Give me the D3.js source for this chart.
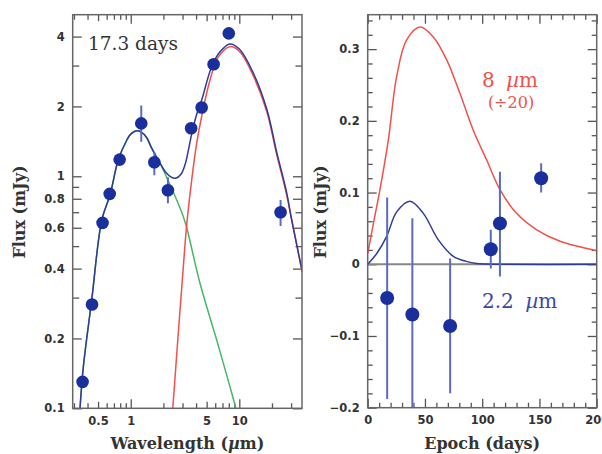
<!DOCTYPE html>
<html>
<head>
<meta charset="utf-8">
<script src="https://d3js.org/d3.v7.min.js"></script>
<style>
  body { margin: 0; background: #fff; }
  svg { display: block; }
  .tick text { font-family: "DejaVu Sans", sans-serif; font-weight: bold; font-size: 11.5px; fill: #333; }
  .tick line { stroke: #555; stroke-width: 1.3; }
  .domain { display: none; }
</style>
</head>
<body>
<svg width="602" height="454"></svg>
<script>
// ---- left panel: SED at 17.3 days ----
var sedWave  = [0.36, 0.44, 0.55, 0.64, 0.79, 1.25, 1.65, 2.2, 3.6, 4.5, 5.8, 8.0, 24];
var sedFlux  = [0.13, 0.28, 0.63, 0.84, 1.18, 1.69, 1.15, 0.87, 1.61, 1.98, 3.04, 4.13, 0.70];
var sedErrLo = [0.13, 0.28, 0.63, 0.84, 1.18, 1.41, 1.01, 0.765, 1.61, 1.98, 3.04, 4.13, 0.61];
var sedErrHi = [0.13, 0.28, 0.63, 0.84, 1.18, 2.02, 1.27, 0.99, 1.61, 1.98, 3.04, 4.13, 0.79];

var totalWave = [0.341, 0.366, 0.437, 0.541, 0.645, 0.769, 0.919, 1.0, 1.13, 1.25, 1.4, 1.55, 1.86, 2.1, 2.3, 2.6, 2.9, 3.16, 3.4, 3.64, 4.05, 4.5, 5.57, 6.64, 8.2, 10.1, 13.4, 17.9, 22.1, 27.3, 30.3, 37.8];
var totalFlux = [0.1, 0.151, 0.293, 0.647, 0.832, 1.18, 1.43, 1.52, 1.57, 1.55, 1.47, 1.33, 1.14, 1.04, 1.0, 0.98, 1.02, 1.12, 1.3, 1.52, 1.85, 2.13, 2.97, 3.44, 3.72, 3.52, 2.8, 1.95, 1.27, 0.85, 0.65, 0.395];

var greenWave = [0.341, 0.366, 0.437, 0.541, 0.645, 0.769, 0.919, 1.0, 1.13, 1.25, 1.4, 1.55, 1.86, 2.14, 2.65, 3.05, 3.28, 4.35, 6.19, 8.2, 9.3];
var greenFlux = [0.1, 0.151, 0.293, 0.647, 0.832, 1.18, 1.43, 1.52, 1.57, 1.55, 1.47, 1.33, 1.14, 0.99, 0.79, 0.67, 0.6, 0.345, 0.197, 0.124, 0.1];

var redWave = [2.44, 2.74, 3.05, 3.28, 3.64, 4.05, 4.5, 5.37, 6.41, 8.2, 10.1, 13.4, 17.9, 22.1, 27.3, 37.8];
var redFlux = [0.1, 0.21, 0.407, 0.62, 0.96, 1.39, 1.81, 2.6, 3.27, 3.62, 3.44, 2.72, 1.9, 1.24, 0.83, 0.387];

var leftYTicks = [0.1, 0.2, 0.4, 0.6, 0.8, 1, 2, 4];
var leftYMinor = [0.3, 0.5, 0.7, 0.9, 3];
var leftXLabels = [0.5, 1, 5, 10];
var leftXMajor = [1, 10];
var leftXMid = [0.5, 5];
var leftXMinor = [0.3, 0.4, 0.6, 0.7, 0.8, 0.9, 2, 3, 4, 6, 7, 8, 9, 20, 30];

// ---- right panel: light curves ----
var epochs   = [17, 39, 72, 107.5, 115.5, 151.5];
var flux22   = [-0.047, -0.070, -0.086, 0.021, 0.057, 0.120];
var errLo22  = [-0.188, -0.215, -0.180, -0.006, -0.017, 0.100];
var errHi22  = [0.093, 0.064, 0.008, 0.048, 0.129, 0.141];

var curve8Epoch = [0, 5, 10.7, 18, 25.3, 34, 45.7, 57.3, 69, 80.6, 92.2, 104, 115.5, 130, 147.6, 168, 200];
var curve8Flux  = [0.015, 0.057, 0.104, 0.173, 0.262, 0.313, 0.331, 0.317, 0.285, 0.238, 0.187, 0.145, 0.104, 0.071, 0.048, 0.032, 0.019];

var curve22Epoch = [0, 7.9, 16.6, 25.3, 37, 48.6, 61.7, 74.8, 86, 95, 120, 200];
var curve22Flux  = [0, 0.015, 0.039, 0.073, 0.088, 0.071, 0.034, 0.011, 0.004, 0.001, 0, 0];

var rightYTicks = [-0.2, -0.1, 0, 0.1, 0.2, 0.3];
var rightXTicks = [0, 50, 100, 150, 200];

var dotColor = '#1a2e9c';
var errColor = '#5a6cc0';
var redColor = '#f2504a';
var blueColor = '#2e3c98';
var greenColor = '#45b868';

var svg = d3.select('svg');
var L = {x0: 72.7, x1: 302, y0: 14.7, y1: 408.3};
var R = {x0: 367.7, x1: 596.7, y0: 14.7, y1: 407.7};

var xl = d3.scaleLog().domain([0.292, 37.8]).range([L.x0, L.x1]);
var yl = d3.scaleLog().domain([0.1, 4.97]).range([L.y1, L.y0]);
var xr = d3.scaleLinear().domain([0, 200]).range([R.x0, R.x1]);
var yr = d3.scaleLinear().domain([-0.2, 0.348]).range([R.y1, R.y0]);

function zip(a, b) { return a.map(function(v, i) { return [v, b[i]]; }); }

function clip(id, P) {
    svg.append('clipPath').attr('id', id)
        .append('rect').attr('x', P.x0).attr('y', P.y0)
        .attr('width', P.x1 - P.x0).attr('height', P.y1 - P.y0);
}
clip('clipL', L);
clip('clipR', R);

function ticks(P, x, y, xv, yv, size, xfmt, yfmt) {
    var g = svg.append('g');
    if (xv) {
        g.append('g').attr('transform', 'translate(0,' + P.y1 + ')')
            .call(d3.axisBottom(x).tickValues(xv).tickSize(-size).tickPadding(8).tickFormat(xfmt || ''));
        g.append('g').attr('transform', 'translate(0,' + P.y0 + ')')
            .call(d3.axisTop(x).tickValues(xv).tickSize(-size).tickFormat(''));
    }
    if (yv) {
        g.append('g').attr('transform', 'translate(' + P.x0 + ',0)')
            .call(d3.axisLeft(y).tickValues(yv).tickSize(-size).tickPadding(8).tickFormat(yfmt || ''));
        g.append('g').attr('transform', 'translate(' + P.x1 + ',0)')
            .call(d3.axisRight(y).tickValues(yv).tickSize(-size).tickFormat(''));
    }
}

// left ticks
var plain = function(d) { return String(d); };
ticks(L, xl, yl, leftXMajor, leftYTicks, 9, function() { return ''; }, plain);
ticks(L, xl, yl, leftXMid, leftYMinor, 6.5);
ticks(L, xl, yl, leftXMinor, null, 5);
svg.append('g').attr('transform', 'translate(0,' + L.y1 + ')')
    .call(d3.axisBottom(xl).tickValues(leftXLabels).tickSize(0).tickPadding(9).tickFormat(plain));

// right ticks
ticks(R, xr, yr, rightXTicks, rightYTicks, 9, d3.format('d'), d3.format('.1~f'));
ticks(R, xr, yr, d3.range(10, 200, 10).filter(function(v) { return v % 50; }),
      d3.range(-0.18, 0.35, 0.02).filter(function(v) { return Math.abs(v * 10 - Math.round(v * 10)) > 0.01; }), 5);

// zero line
svg.append('line').attr('x1', R.x0).attr('x2', R.x1).attr('y1', yr(0)).attr('y2', yr(0))
    .attr('stroke', '#888').attr('stroke-width', 2);

// left curves
var lineL = d3.line().x(function(d) { return xl(d[0]); }).y(function(d) { return yl(d[1]); })
    .curve(d3.curveCatmullRom.alpha(0.5));
var gl = svg.append('g').attr('clip-path', 'url(#clipL)');
gl.append('path').attr('d', lineL(zip(greenWave, greenFlux))).attr('fill', 'none').attr('stroke', greenColor).attr('stroke-width', 1.5);
gl.append('path').attr('d', lineL(zip(redWave, redFlux))).attr('fill', 'none').attr('stroke', redColor).attr('stroke-width', 1.5);
gl.append('path').attr('d', lineL(zip(totalWave, totalFlux))).attr('fill', 'none').attr('stroke', blueColor).attr('stroke-width', 1.5);

sedWave.forEach(function(w, i) {
    gl.append('line').attr('x1', xl(w)).attr('x2', xl(w)).attr('y1', yl(sedErrLo[i])).attr('y2', yl(sedErrHi[i]))
        .attr('stroke', errColor).attr('stroke-width', 2);
});
gl.selectAll('circle').data(sedWave).enter().append('circle')
    .attr('cx', function(d) { return xl(d); })
    .attr('cy', function(d, i) { return yl(sedFlux[i]); })
    .attr('r', 6.3).attr('fill', dotColor);

// right curves
var lineR = d3.line().x(function(d) { return xr(d[0]); }).y(function(d) { return yr(d[1]); })
    .curve(d3.curveCatmullRom.alpha(0.5));
var gr = svg.append('g').attr('clip-path', 'url(#clipR)');
gr.append('path').attr('d', lineR(zip(curve8Epoch, curve8Flux))).attr('fill', 'none').attr('stroke', redColor).attr('stroke-width', 1.5);
gr.append('path').attr('d', lineR(zip(curve22Epoch, curve22Flux))).attr('fill', 'none').attr('stroke', blueColor).attr('stroke-width', 1.5);

epochs.forEach(function(e, i) {
    gr.append('line').attr('x1', xr(e)).attr('x2', xr(e)).attr('y1', yr(errLo22[i])).attr('y2', yr(errHi22[i]))
        .attr('stroke', errColor).attr('stroke-width', 2);
});
gr.selectAll('circle').data(epochs).enter().append('circle')
    .attr('cx', function(d) { return xr(d); })
    .attr('cy', function(d, i) { return yr(flux22[i]); })
    .attr('r', 7).attr('fill', dotColor);

// frames
[L, R].forEach(function(P) {
    svg.append('rect').attr('x', P.x0).attr('y', P.y0).attr('width', P.x1 - P.x0).attr('height', P.y1 - P.y0)
        .attr('fill', 'none').attr('stroke', '#666').attr('stroke-width', 1.5);
});

// texts
var serif = '"DejaVu Serif", serif';
svg.append('text').attr('x', 88).attr('y', 50).attr('font-family', serif).attr('font-size', 18.5)
    .attr('fill', '#333').text('17.3 days');
svg.append('text').attr('x', (L.x0 + L.x1) / 2).attr('y', 449).attr('text-anchor', 'middle')
    .attr('font-family', serif).attr('font-weight', 'bold').attr('font-size', 16).attr('fill', '#333')
    .html('Wavelength (<tspan font-style="italic">µ</tspan>m)');
svg.append('text').attr('x', (R.x0 + R.x1) / 2).attr('y', 449).attr('text-anchor', 'middle')
    .attr('font-family', serif).attr('font-weight', 'bold').attr('font-size', 16).attr('fill', '#333')
    .text('Epoch (days)');
[[25, 212], [326, 212]].forEach(function(p) {
    svg.append('text').attr('transform', 'translate(' + p[0] + ',' + p[1] + ') rotate(-90)')
        .attr('text-anchor', 'middle').attr('font-family', serif).attr('font-weight', 'bold')
        .attr('font-size', 16).attr('fill', '#333').text('Flux (mJy)');
});
svg.append('text').attr('x', 482).attr('y', 87).attr('font-family', serif).attr('font-size', 20)
    .attr('fill', redColor).html('8 <tspan dx="5" font-style="italic">µ</tspan>m');
svg.append('text').attr('x', 511).attr('y', 108).attr('text-anchor', 'middle').attr('font-family', serif)
    .attr('font-size', 16).attr('fill', redColor).text('(÷20)');
svg.append('text').attr('x', 482).attr('y', 308).attr('font-family', serif).attr('font-size', 20)
    .attr('fill', '#3a48a8').html('2.2 <tspan dx="5" font-style="italic">µ</tspan>m');
</script>
</body>
</html>
